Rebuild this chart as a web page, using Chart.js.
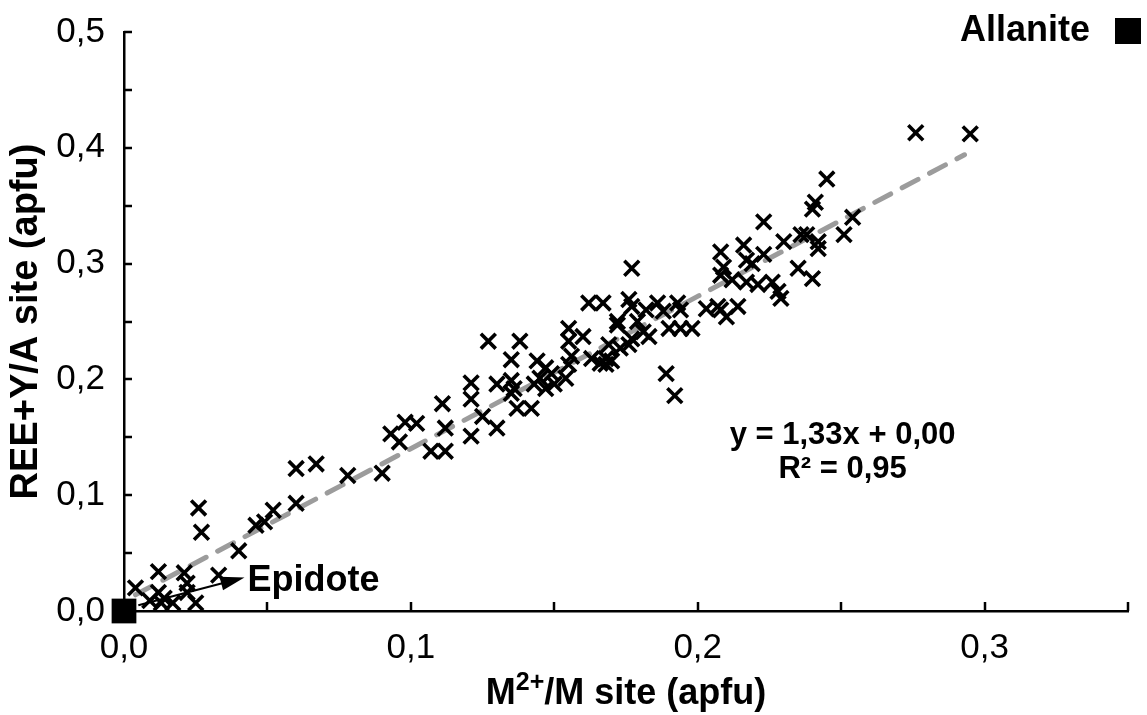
<!DOCTYPE html>
<html>
<head>
<meta charset="utf-8">
<script src="https://cdn.jsdelivr.net/npm/chart.js@4.4.0/dist/chart.umd.min.js"></script>
<style>
  html, body { margin: 0; padding: 0; background: #fff; }
  #wrap { width: 1147px; height: 715px; }
</style>
</head>
<body>
<div id="wrap"><canvas id="chart"></canvas></div>
<script>
// M2+/M site (apfu) of each analysis
const m2Site = [
    0.004, 0.012, 0.012, 0.009, 0.013, 0.014, 0.017, 0.021, 0.022, 0.022,
    0.025, 0.026, 0.027, 0.033, 0.040, 0.046, 0.049, 0.052, 0.060, 0.060,
    0.067, 0.078, 0.090, 0.093, 0.096, 0.098, 0.102, 0.111, 0.112, 0.107,
    0.112, 0.121, 0.121, 0.121, 0.125, 0.130, 0.127, 0.138, 0.135, 0.130,
    0.135, 0.136, 0.135, 0.137, 0.142, 0.144, 0.145, 0.143, 0.149, 0.150,
    0.147, 0.154, 0.155, 0.155, 0.160, 0.156, 0.155, 0.163, 0.166, 0.168,
    0.170, 0.172, 0.169, 0.173, 0.177, 0.162, 0.167, 0.176, 0.177, 0.177,
    0.176, 0.168, 0.172, 0.179, 0.181, 0.183, 0.186, 0.188, 0.193, 0.194,
    0.190, 0.194, 0.198, 0.189, 0.192, 0.203, 0.207, 0.208, 0.210, 0.214,
    0.208, 0.216, 0.209, 0.208, 0.212, 0.217, 0.219, 0.217, 0.221, 0.223,
    0.223, 0.230, 0.226, 0.228, 0.229, 0.235, 0.240, 0.236, 0.238, 0.242,
    0.242, 0.245, 0.241, 0.240, 0.254, 0.251, 0.276, 0.295, 0.147, 0.182
];
// REE+Y/A site (apfu) of the same analyses
const reeSite = [
    0.020, 0.034, 0.016, 0.009, 0.007, 0.011, 0.007, 0.033, 0.024, 0.016,
    0.007, 0.089, 0.068, 0.031, 0.052, 0.074, 0.077, 0.087, 0.093, 0.123,
    0.127, 0.117, 0.119, 0.153, 0.146, 0.163, 0.162, 0.179, 0.158, 0.138,
    0.138, 0.197, 0.183, 0.151, 0.168, 0.158, 0.233, 0.233, 0.217, 0.196,
    0.199, 0.192, 0.188, 0.175, 0.175, 0.216, 0.201, 0.196, 0.205, 0.196,
    0.192, 0.201, 0.244, 0.233, 0.237, 0.220, 0.213, 0.218, 0.214, 0.218,
    0.216, 0.247, 0.230, 0.227, 0.235, 0.266, 0.266, 0.269, 0.296, 0.263,
    0.230, 0.213, 0.250, 0.250, 0.241, 0.237, 0.266, 0.259, 0.266, 0.260,
    0.244, 0.244, 0.244, 0.205, 0.186, 0.261, 0.263, 0.260, 0.254, 0.263,
    0.310, 0.316, 0.297, 0.290, 0.286, 0.303, 0.300, 0.284, 0.282, 0.308,
    0.336, 0.319, 0.284, 0.276, 0.270, 0.296, 0.287, 0.325, 0.325, 0.319,
    0.313, 0.373, 0.353, 0.347, 0.340, 0.325, 0.413, 0.412, 0.210, 0.260
];

// epidote end member (filled square)
const epidoteX = [0.0];
const epidoteY = [0.0];

// linear trend y = 1,33x + 0,00, ends of the drawn segment
const trendX = [0.004, 0.293];
const trendY = [0.014, 0.394];

const xTicks = [0.0, 0.1, 0.2, 0.3];
const yTicks = [0.0, 0.1, 0.2, 0.3, 0.4, 0.5];

const FONT = "'Liberation Sans', Arial, sans-serif";
Chart.defaults.font.family = FONT;
Chart.defaults.color = '#000';

function toPoints(xs, ys) {
    return xs.map((v, i) => ({ x: v, y: ys[i] }));
}

function tickLabel(list) {
    return function(value) {
        const hit = list.find(t => Math.abs(t - value) < 1e-6);
        return hit === undefined ? '' : hit.toFixed(1).replace('.', ',');
    };
}

// inward tick marks, x title with superscript, text labels
const extras = {
    id: 'extras',
    afterDraw(chart) {
        const { ctx, chartArea: area, scales: { x, y } } = chart;
        ctx.save();
        ctx.strokeStyle = '#000';
        ctx.lineWidth = 2.5;
        ctx.beginPath();
        x.ticks.forEach(t => {
            const px = Math.round(x.getPixelForValue(t.value));
            ctx.moveTo(px, area.bottom);
            ctx.lineTo(px, area.bottom - 9);
        });
        y.ticks.forEach(t => {
            const py = Math.round(y.getPixelForValue(t.value));
            ctx.moveTo(area.left, py);
            ctx.lineTo(area.left + 8, py);
        });
        ctx.stroke();

        // x axis title: M2+/M site (apfu), centred under the plot
        const big = 'bold 36px ' + FONT;
        const small = 'bold 25px ' + FONT;
        const partA = 'M', sup = '2+', partB = '/M site (apfu)';
        ctx.font = big;
        const wA = ctx.measureText(partA).width;
        const wB = ctx.measureText(partB).width;
        ctx.font = small;
        const wS = ctx.measureText(sup).width;
        let tx = (area.left + area.right) / 2 - (wA + wS + wB) / 2;
        const base = 704;
        ctx.fillStyle = '#000';
        ctx.textBaseline = 'alphabetic';
        ctx.textAlign = 'left';
        ctx.font = big;
        ctx.fillText(partA, tx, base);
        tx += wA;
        ctx.font = small;
        ctx.fillText(sup, tx, base - 14);
        tx += wS;
        ctx.font = big;
        ctx.fillText(partB, tx, base);

        // Epidote label with arrow
        const ax0 = x.getPixelForValue(0.005), ay0 = y.getPixelForValue(0.005);
        const ax1 = x.getPixelForValue(0.042), ay1 = y.getPixelForValue(0.029);
        const ang = Math.atan2(ay1 - ay0, ax1 - ax0);
        ctx.lineWidth = 2;
        ctx.beginPath();
        ctx.moveTo(ax0, ay0);
        ctx.lineTo(ax1 - 20 * Math.cos(ang), ay1 - 20 * Math.sin(ang));
        ctx.stroke();
        ctx.beginPath();
        ctx.moveTo(ax1, ay1);
        ctx.lineTo(ax1 - 24 * Math.cos(ang) + 7 * Math.sin(ang), ay1 - 24 * Math.sin(ang) - 7 * Math.cos(ang));
        ctx.lineTo(ax1 - 24 * Math.cos(ang) - 7 * Math.sin(ang), ay1 - 24 * Math.sin(ang) + 7 * Math.cos(ang));
        ctx.closePath();
        ctx.fill();
        ctx.font = 'bold 36px ' + FONT;
        ctx.textBaseline = 'middle';
        ctx.fillText('Epidote', ax1 + 3, ay1 + 4);

        // regression equation
        ctx.font = 'bold 31px ' + FONT;
        ctx.textAlign = 'center';
        ctx.fillText('y = 1,33x + 0,00', x.getPixelForValue(0.2505), y.getPixelForValue(0.152));
        ctx.fillText('R² = 0,95', x.getPixelForValue(0.2505), y.getPixelForValue(0.122));

        // Allanite legend entry
        ctx.font = 'bold 36px ' + FONT;
        ctx.textAlign = 'right';
        ctx.fillText('Allanite', 1090, 31);
        ctx.fillRect(1115, 18, 26, 26);
        ctx.restore();
    }
};

new Chart(document.getElementById('chart'), {
    type: 'scatter',
    data: {
        datasets: [
            {
                label: 'Epidote',
                data: toPoints(epidoteX, epidoteY),
                pointStyle: 'rect',
                pointRadius: 17.5,
                backgroundColor: '#000',
                borderColor: '#000',
                borderWidth: 0,
                clip: false,
                order: 0
            },
            {
                label: 'Analyses',
                data: toPoints(m2Site, reeSite),
                pointStyle: 'crossRot',
                pointRadius: 10.5,
                borderColor: '#000',
                borderWidth: 3.6,
                order: 1
            },
            {
                type: 'line',
                label: 'Trend',
                data: toPoints(trendX, trendY),
                borderColor: '#9c9c9c',
                borderWidth: 5,
                borderDash: [18, 13],
                borderCapStyle: 'round',
                pointRadius: 0,
                fill: false,
                order: 2
            }
        ]
    },
    options: {
        responsive: true,
        maintainAspectRatio: false,
        animation: false,
        events: [],
        layout: { padding: { top: 16, right: 19, left: 0, bottom: 0 } },
        plugins: {
            legend: { display: false },
            tooltip: { enabled: false }
        },
        scales: {
            x: {
                type: 'linear',
                min: 0,
                max: 0.35,
                afterFit: scale => { scale.height = 104; },
                grid: { display: false },
                border: { display: true, color: '#000', width: 2.5 },
                ticks: {
                    stepSize: 0.05,
                    autoSkip: false,
                    maxRotation: 0,
                    padding: 8,
                    color: '#000',
                    font: { size: 35 },
                    callback: tickLabel(xTicks)
                }
            },
            y: {
                type: 'linear',
                min: 0,
                max: 0.5,
                afterFit: scale => { scale.width = 124; },
                grid: { display: false },
                border: { display: true, color: '#000', width: 2.5 },
                title: {
                    display: true,
                    text: 'REE+Y/A site (apfu)',
                    color: '#000',
                    font: { size: 38, weight: 'bold' },
                    padding: { top: 4, bottom: 0 }
                },
                ticks: {
                    stepSize: 0.05,
                    autoSkip: false,
                    padding: 11,
                    color: '#000',
                    font: { size: 35 },
                    callback: tickLabel(yTicks)
                }
            }
        }
    },
    plugins: [extras]
});
</script>
</body>
</html>
